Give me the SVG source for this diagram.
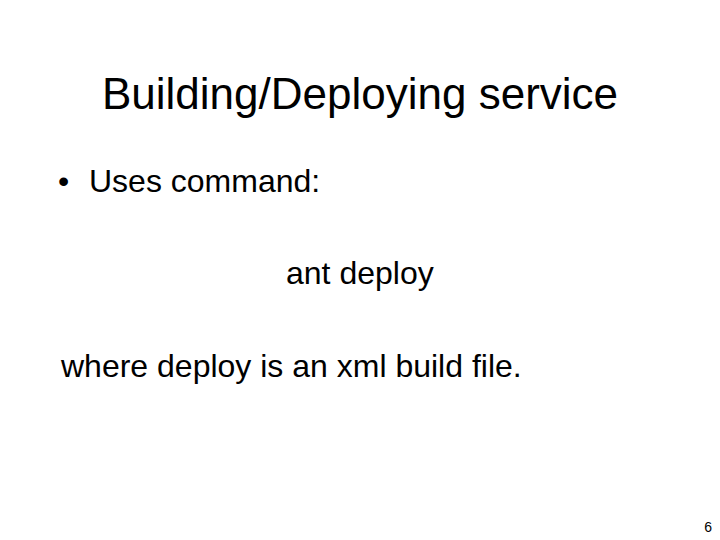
<svg xmlns="http://www.w3.org/2000/svg" width="720" height="540" viewBox="0 0 720 540">
<style>text{font-family:"Liberation Sans",Arial,sans-serif;fill:#000}</style>
<rect width="720" height="540" fill="#fff"/>
<text x="360" y="109" font-size="44" text-anchor="middle">Building/Deploying service</text>
<text x="58" y="192" font-size="32">•</text>
<text x="89" y="192" font-size="32">Uses command:</text>
<text x="286" y="284" font-size="32">ant deploy</text>
<text x="61" y="377" font-size="32">where deploy is an xml build file.</text>
<text x="712" y="532" font-size="14" text-anchor="end">6</text>
</svg>
